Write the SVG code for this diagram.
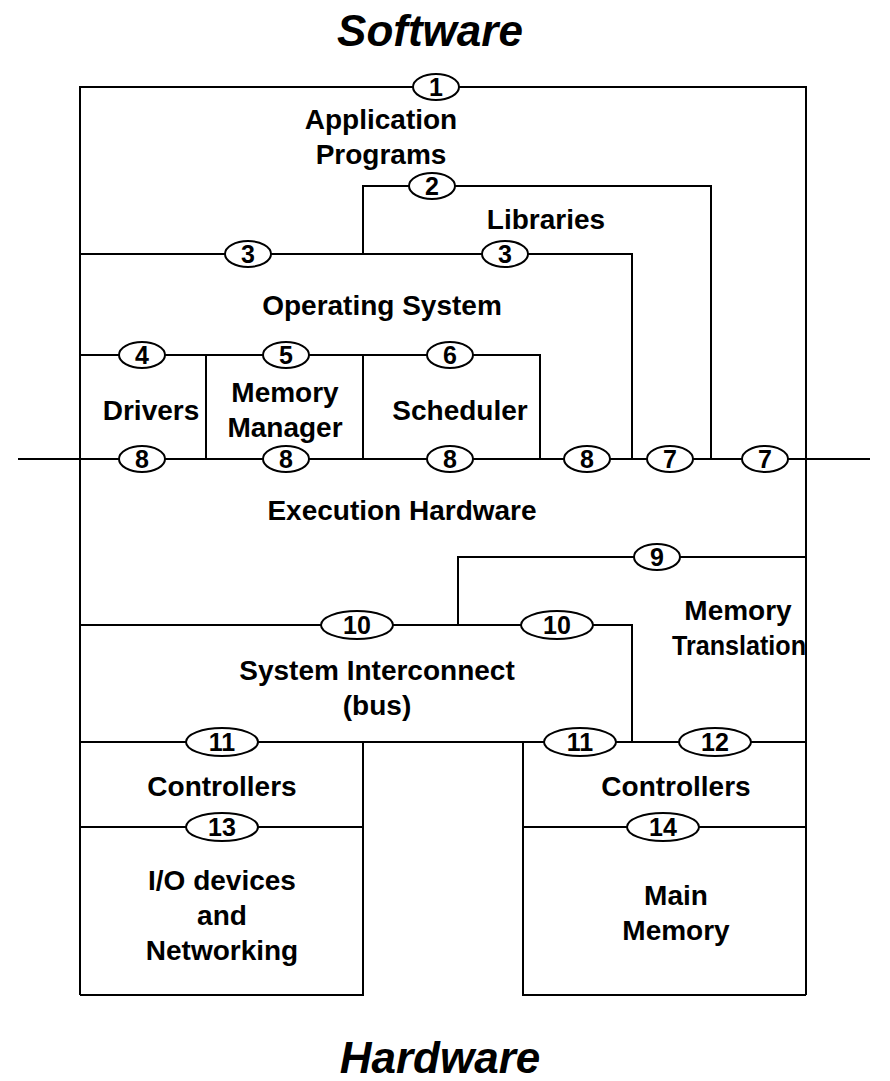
<svg xmlns="http://www.w3.org/2000/svg" width="890" height="1081" viewBox="0 0 890 1081">
  <style>
    .ln { fill: none; stroke: #000; stroke-width: 2; }
    .iface { fill: #fff; stroke: #000; stroke-width: 2; }
    .num { font-family: "Liberation Sans", Arial, sans-serif; font-weight: bold; font-size: 25px; text-anchor: middle; fill: #000; }
    .lbl { font-family: "Liberation Sans", Arial, sans-serif; font-weight: bold; font-size: 28px; text-anchor: middle; fill: #000; }
    .title { font-family: "Liberation Sans", Arial, sans-serif; font-weight: bold; font-style: italic; font-size: 44px; text-anchor: middle; fill: #000; }
  </style>
  <rect width="890" height="1081" fill="#fff"/>

  <text class="title" x="430" y="46">Software</text>
  <text class="title" x="440" y="1073">Hardware</text>

  <!-- boundary lines between layers -->
  <g id="connectors">
    <path class="ln" d="M80,995 V87 H806 V995"/>
    <path class="ln" d="M363,254 V186 H711 V459"/>
    <path class="ln" d="M80,254 H632 V459"/>
    <path class="ln" d="M80,355 H540 V459"/>
    <path class="ln" d="M206,355 V459"/>
    <path class="ln" d="M363,355 V459"/>
    <path class="ln" d="M18,459 H870"/>
    <path class="ln" d="M458,625 V557 H806"/>
    <path class="ln" d="M80,625 H632 V742"/>
    <path class="ln" d="M80,742 H806"/>
    <path class="ln" d="M363,742 V995 H80"/>
    <path class="ln" d="M523,742 V995 H806"/>
    <path class="ln" d="M80,827 H363"/>
    <path class="ln" d="M523,827 H806"/>
  </g>

  <!-- layer labels -->
  <g id="app-programs"><text class="lbl" x="381" y="129">Application</text><text class="lbl" x="381" y="164">Programs</text></g>
  <g id="libraries"><text class="lbl" x="546" y="229">Libraries</text></g>
  <g id="operating-system"><text class="lbl" x="382" y="315">Operating System</text></g>
  <g id="drivers"><text class="lbl" x="151" y="420">Drivers</text></g>
  <g id="memory-manager"><text class="lbl" x="285" y="402">Memory</text><text class="lbl" x="285" y="437">Manager</text></g>
  <g id="scheduler"><text class="lbl" x="460" y="420">Scheduler</text></g>
  <g id="execution-hardware"><text class="lbl" x="402" y="520">Execution Hardware</text></g>
  <g id="memory-translation"><text class="lbl" x="738" y="620">Memory</text><text class="lbl" x="739" y="655" textLength="134" lengthAdjust="spacingAndGlyphs">Translation</text></g>
  <g id="system-interconnect"><text class="lbl" x="377" y="680">System Interconnect</text><text class="lbl" x="377" y="715">(bus)</text></g>
  <g id="io-controllers"><text class="lbl" x="222" y="796">Controllers</text></g>
  <g id="mem-controllers"><text class="lbl" x="676" y="796">Controllers</text></g>
  <g id="io-devices"><text class="lbl" x="222" y="890">I/O devices</text><text class="lbl" x="222" y="925">and</text><text class="lbl" x="222" y="960">Networking</text></g>
  <g id="main-memory"><text class="lbl" x="676" y="905">Main</text><text class="lbl" x="676" y="940">Memory</text></g>

  <!-- numbered interfaces -->
  <g id="if1"><ellipse class="iface" cx="436" cy="87" rx="23" ry="13"/><text class="num" x="436" y="96">1</text></g>
  <g id="if2"><ellipse class="iface" cx="432" cy="186" rx="23" ry="13"/><text class="num" x="432" y="195">2</text></g>
  <g id="if3a"><ellipse class="iface" cx="248" cy="254" rx="23" ry="13"/><text class="num" x="248" y="263">3</text></g>
  <g id="if3b"><ellipse class="iface" cx="505" cy="254" rx="23" ry="13"/><text class="num" x="505" y="263">3</text></g>
  <g id="if4"><ellipse class="iface" cx="142" cy="355" rx="23" ry="13"/><text class="num" x="142" y="364">4</text></g>
  <g id="if5"><ellipse class="iface" cx="286" cy="355" rx="23" ry="13"/><text class="num" x="286" y="364">5</text></g>
  <g id="if6"><ellipse class="iface" cx="450" cy="355" rx="23" ry="13"/><text class="num" x="450" y="364">6</text></g>
  <g id="if8a"><ellipse class="iface" cx="142" cy="459" rx="23" ry="13"/><text class="num" x="142" y="468">8</text></g>
  <g id="if8b"><ellipse class="iface" cx="286" cy="459" rx="23" ry="13"/><text class="num" x="286" y="468">8</text></g>
  <g id="if8c"><ellipse class="iface" cx="450" cy="459" rx="23" ry="13"/><text class="num" x="450" y="468">8</text></g>
  <g id="if8d"><ellipse class="iface" cx="587" cy="459" rx="23" ry="13"/><text class="num" x="587" y="468">8</text></g>
  <g id="if7a"><ellipse class="iface" cx="670" cy="459" rx="23" ry="13"/><text class="num" x="670" y="468">7</text></g>
  <g id="if7b"><ellipse class="iface" cx="765" cy="459" rx="23" ry="13"/><text class="num" x="765" y="468">7</text></g>
  <g id="if9"><ellipse class="iface" cx="657" cy="557" rx="23" ry="13"/><text class="num" x="657" y="566">9</text></g>
  <g id="if10a"><ellipse class="iface" cx="357" cy="625" rx="36" ry="14"/><text class="num" x="357" y="634">10</text></g>
  <g id="if10b"><ellipse class="iface" cx="557" cy="625" rx="36" ry="14"/><text class="num" x="557" y="634">10</text></g>
  <g id="if11a"><ellipse class="iface" cx="222" cy="742" rx="36" ry="14"/><text class="num" x="222" y="751">11</text></g>
  <g id="if11b"><ellipse class="iface" cx="580" cy="742" rx="36" ry="14"/><text class="num" x="580" y="751">11</text></g>
  <g id="if12"><ellipse class="iface" cx="715" cy="742" rx="36" ry="14"/><text class="num" x="715" y="751">12</text></g>
  <g id="if13"><ellipse class="iface" cx="222" cy="827" rx="36" ry="14"/><text class="num" x="222" y="836">13</text></g>
  <g id="if14"><ellipse class="iface" cx="663" cy="827" rx="36" ry="14"/><text class="num" x="663" y="836">14</text></g>
</svg>
